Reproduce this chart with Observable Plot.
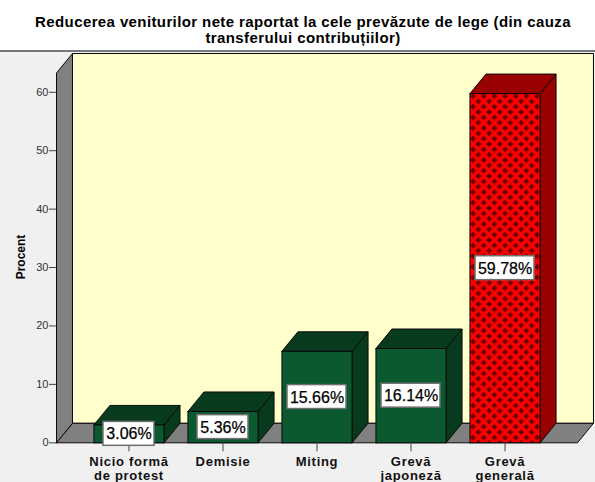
<!DOCTYPE html>
<html><head><meta charset="utf-8">
<script src="https://cdn.jsdelivr.net/npm/d3@7"></script>
<script src="https://cdn.jsdelivr.net/npm/@observablehq/plot@0.6"></script>
<style>
html,body{margin:0;padding:0;width:595px;height:482px;overflow:hidden;background:#f0f0f0;font-family:"Liberation Sans",Arial,sans-serif}
#title{height:50px;box-sizing:border-box;background:#fff;padding:14px 0 0 11px;text-align:center;font-weight:bold;font-size:15px;letter-spacing:.39px;line-height:15.5px;color:#000;width:595px;white-space:nowrap}
#chart{border-top:2px solid #777;height:430px}
svg{display:block;overflow:visible}
g[aria-label="x-axis tick label"] text{letter-spacing:.7px}
</style></head><body>
<div id="title"></div>
<div id="chart"></div>
<script>
const titleLines = ["Reducerea veniturilor nete raportat la cele prevăzute de lege (din cauza", "transferului contribuțiilor)"];
const categories = ["Nicio formă\nde protest", "Demisie", "Miting", "Grevă\njaponeză", "Grevă\ngenerală"];
const percents = [3.06, 5.36, 15.66, 16.14, 59.78];
const percentLabels = ["3.06%", "5.36%", "15.66%", "16.14%", "59.78%"];
const yTicks = [0, 10, 20, 30, 40, 50, 60];
const yLabel = "Procent";
const xMin = -0.771, xMax = 4.771, yTop = 63.3;
const depthX = 0.17, depthY = 3.34, halfBar = 0.373;

document.getElementById("title").innerHTML = titleLines.join("<br>");

function faceMark(polys, fill) {
  const pts = polys.flatMap((p, id) => [...p, p[0]].map(([x, y]) => ({x, y, id})));
  return Plot.line(pts, {x: "x", y: "y", z: "id", fill, stroke: "#0a0a0a", strokeWidth: 1, curve: "linear", strokeLinejoin: "round"});
}
const front = (i, v) => [[i - halfBar, 0], [i + halfBar, 0], [i + halfBar, v], [i - halfBar, v]];
const side = (i, v) => [[i + halfBar, 0], [i + halfBar + depthX, depthY], [i + halfBar + depthX, v + depthY], [i + halfBar, v]];
const topFace = (i, v) => [[i - halfBar, v], [i + halfBar, v], [i + halfBar + depthX, v + depthY], [i - halfBar + depthX, v + depthY]];
const idx = d3.range(categories.length);
const green = idx.filter(i => i < 4), red = [4];

const patternDef = () => {
  const defs = d3.create("svg:defs");
  const p = defs.append("pattern").attr("id", "cross").attr("patternUnits", "userSpaceOnUse")
    .attr("width", 10.67).attr("height", 10.67).attr("x", 470).attr("y", 41);
  p.append("rect").attr("width", 10.67).attr("height", 10.67).attr("fill", "#ff0000");
  for (const [cx, cy] of [[2.6, 2.6], [7.9, 7.9]]) {
    p.append("rect").attr("x", cx - 1).attr("y", cy - 2.6).attr("width", 2).attr("height", 5.2).attr("fill", "#600000");
    p.append("rect").attr("x", cx - 2.6).attr("y", cy - 1).attr("width", 5.2).attr("height", 2).attr("fill", "#600000");
  }
  return defs.node();
};

const boxes = idx.map(i => {
  const w = (percentLabels[i].length === 5 ? 25.5 : 29.5) / 94;
  return {x1: i - w, x2: i + w, y1: percents[i] / 2 - 2.05, y2: percents[i] / 2 + 2.05};
});

const chart = Plot.plot({
  width: 595, height: 430,
  marginLeft: 56, marginRight: 18, marginTop: 1, marginBottom: 39.7,
  style: {background: "transparent", fontFamily: "'Liberation Sans',Arial,sans-serif", overflow: "visible"},
  x: {domain: [xMin, xMax], axis: null},
  y: {domain: [0, yTop + depthY], axis: null},
  marks: [
    patternDef,
    faceMark([[[xMin + depthX, depthY], [xMax + depthX, depthY], [xMax + depthX, yTop + depthY], [xMin + depthX, yTop + depthY]]], "#ffffcc"),
    faceMark([[[xMin, 0], [xMax, 0], [xMax + depthX, depthY], [xMin + depthX, depthY]]], "#808080"),
    faceMark([[[xMin, 0], [xMin + depthX, depthY], [xMin + depthX, yTop + depthY], [xMin, yTop]]], "#808080"),
    faceMark(green.map(i => side(i, percents[i])), "#083a1e"),
    faceMark(green.map(i => topFace(i, percents[i])), "#083a1e"),
    faceMark(green.map(i => front(i, percents[i])), "#0b5a2f"),
    faceMark(red.map(i => side(i, percents[i])), "#990000"),
    faceMark(red.map(i => topFace(i, percents[i])), "#990000"),
    faceMark(red.map(i => front(i, percents[i])), "url(#cross)"),
    Plot.axisX({ticks: idx, tickFormat: i => categories[i], tickSize: 9, tickPadding: 4, anchor: "bottom", label: null, stroke: "#444",
      fontSize: 13, fontWeight: "bold", fill: "#111", lineHeight: 1.08, textStroke: "none"}),
    Plot.axisY({ticks: yTicks, tickSize: 7, tickPadding: 1, anchor: "left", label: null, stroke: "#444", fill: "#333", fontSize: 11}),
    Plot.rect(boxes, {x1: "x1", x2: "x2", y1: "y1", y2: "y2", fill: "#fff", stroke: "#6e6e6e", strokeWidth: 1.5}),
    Plot.text(idx, {x: i => i, y: i => percents[i] / 2, text: i => percentLabels[i], fontSize: 16, fill: "#000", stroke: "#000", strokeWidth: 0.25, dy: 0.5}),
    Plot.text([yLabel], {x: [xMin], y: [31.8], text: d => d, rotate: -90, dx: -35, fontWeight: "bold", fontSize: 12, fill: "#000"})
  ]
});
document.getElementById("chart").append(chart);
</script>
</body></html>
